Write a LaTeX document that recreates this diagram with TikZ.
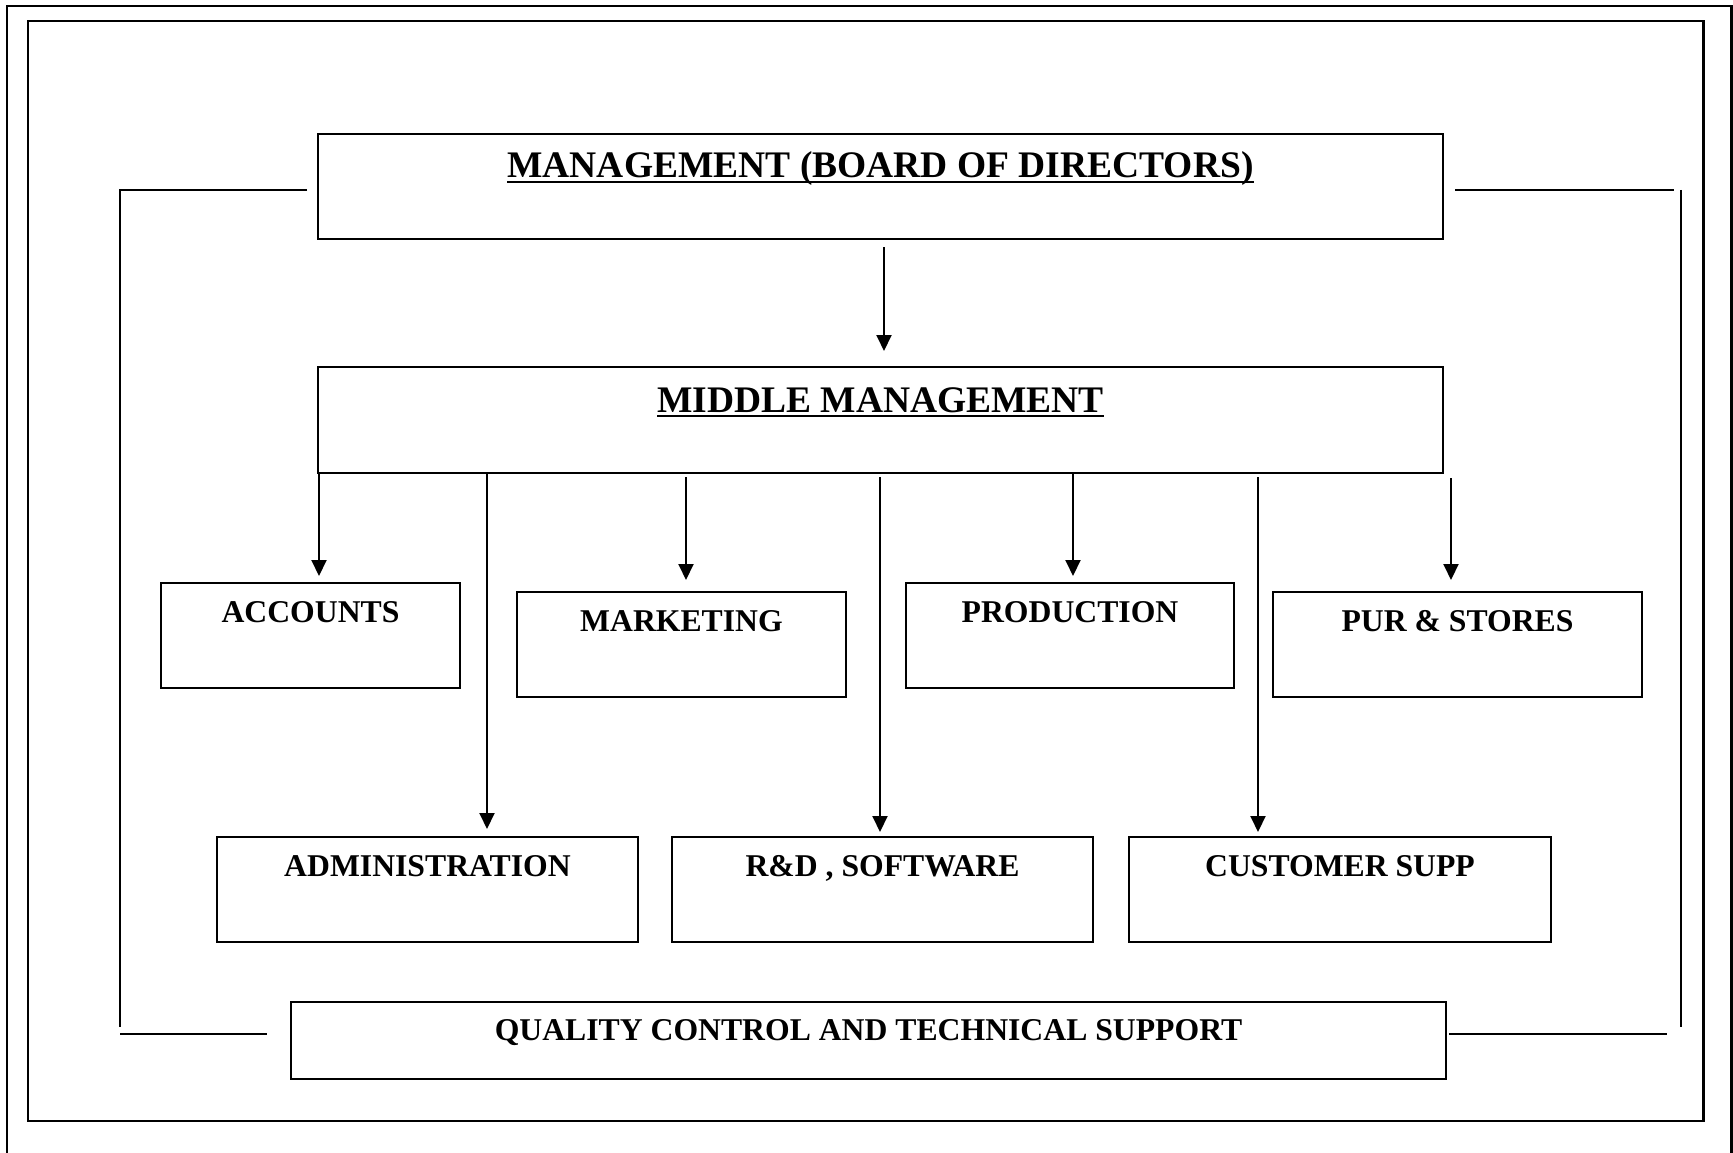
\documentclass[tikz,border=0pt]{standalone}
\usepackage{fontspec}
\setmainfont{Liberation Serif}
\usetikzlibrary{arrows.meta}
\newcommand\myul[1]{\setbox0=\hbox{#1}\rlap{\rule[-5pt]{\wd0}{2pt}}\box0}
\begin{document}
\begin{tikzpicture}[x=1pt,y=-1pt,
  box/.style={draw, line width=2pt, inner sep=0pt, anchor=north west,
              text height=39pt, text depth=66pt,
              font=\fontsize{31.7}{34}\selectfont\bfseries},
  titlebox/.style={box, font=\fontsize{37.5}{40}\selectfont\bfseries},
  arr/.style={line width=2pt, -{Triangle[width=15pt,length=16pt]}},
  framestyle/.style={line width=2.3pt},
  bracket/.style={line width=2pt}]
\useasboundingbox (0,0) rectangle (1733,1153);
\clip (0,0) rectangle (1733,1153);
\fill[white] (0,0) rectangle (1733,1153);
% frames
\draw[framestyle] (7,6) rectangle (1731.5,1175);
\draw[framestyle] (28,21) rectangle (1703.5,1121);
% boxes
\node[titlebox, minimum width=1125pt, text height=44pt, text depth=61pt] (top) at (317,133) {\myul{MANAGEMENT (BOARD OF DIRECTORS)}};
\node[titlebox, minimum width=1125pt, text height=45pt, text depth=61pt] (mid) at (317,366) {\myul{MIDDLE MANAGEMENT}};
\node[box, minimum width=299pt] (acc) at (160,582) {ACCOUNTS};
\node[box, minimum width=329pt] (mkt) at (516,591) {MARKETING};
\node[box, minimum width=328pt] (prod) at (905,582) {PRODUCTION};
\node[box, minimum width=369pt] (pur) at (1272,591) {PUR \& STORES};
\node[box, minimum width=421pt] (adm) at (216,836) {ADMINISTRATION};
\node[box, minimum width=421pt] (rnd) at (671,836) {R\&D , SOFTWARE};
\node[box, minimum width=422pt] (cust) at (1128,836) {CUSTOMER SUPP};
\node[box, minimum width=1155pt, text height=38pt, text depth=39pt] (qc) at (290,1001) {QUALITY CONTROL AND TECHNICAL SUPPORT};
% arrow columns
\coordinate (x0) at (884,0);
\coordinate (xacc) at (319,0);
\coordinate (xadm) at (487,0);
\coordinate (xmkt) at (686,0);
\coordinate (xrnd) at (880,0);
\coordinate (xprod) at (1073,0);
\coordinate (xcust) at (1258,0);
\coordinate (xpur) at (1451,0);
\draw[arr, shorten <=7pt, shorten >=15pt] (x0 |- top.south) -- (x0 |- mid.north);
\draw[arr, shorten >=6pt] (xacc |- mid.south) -- (xacc |- acc.north);
\draw[arr, shorten >=7pt] (xadm |- mid.south) -- (xadm |- adm.north);
\draw[arr, shorten <=3pt, shorten >=11pt] (xmkt |- mid.south) -- (xmkt |- mkt.north);
\draw[arr, shorten <=3pt, shorten >=4pt] (xrnd |- mid.south) -- (xrnd |- rnd.north);
\draw[arr, shorten >=6pt] (xprod |- mid.south) -- (xprod |- prod.north);
\draw[arr, shorten <=3pt, shorten >=4pt] (xcust |- mid.south) -- (xcust |- cust.north);
\draw[arr, shorten <=4pt, shorten >=11pt] (xpur |- mid.south) -- (xpur |- pur.north);
% side brackets
\draw[bracket] (307,190) -- (120,190) -- (120,1027);
\draw[bracket] (120,1034) -- (267,1034);
\draw[bracket] (1455,190) -- (1674,190);
\draw[bracket] (1681,190) -- (1681,1027);
\draw[bracket] (1449,1034) -- (1667,1034);
\end{tikzpicture}
\end{document}
